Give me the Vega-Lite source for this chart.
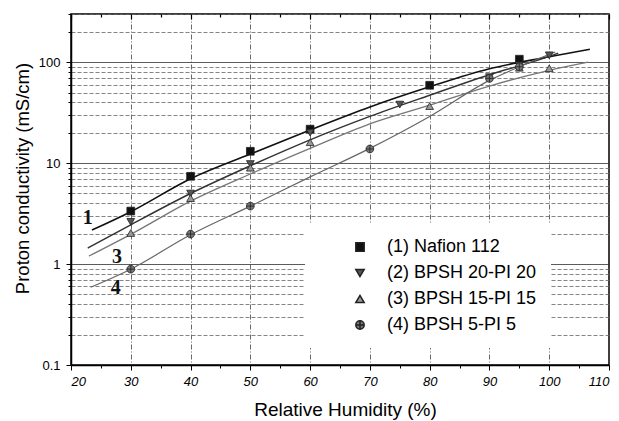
{
  "$schema": "https://vega.github.io/schema/vega-lite/v6.json",
  "width": 538,
  "height": 351,
  "autosize": "none",
  "padding": {"left": 71, "top": 14, "right": 10, "bottom": 56},
  "background": "white",
  "config": {"view": {"stroke": "#000", "strokeWidth": 1.5}, "font": "Liberation Sans"},
  "resolve": {"axis": {"x": "independent"}},
  "datasets": {
    "points": [
      {"series": "(1) Nafion 112", "rh": 30, "sigma": 3.35},
      {"series": "(1) Nafion 112", "rh": 40, "sigma": 7.4},
      {"series": "(1) Nafion 112", "rh": 50, "sigma": 13.1},
      {"series": "(1) Nafion 112", "rh": 60, "sigma": 21.7},
      {"series": "(1) Nafion 112", "rh": 80, "sigma": 59},
      {"series": "(1) Nafion 112", "rh": 95, "sigma": 107},
      {"series": "(2) BPSH 20-PI 20", "rh": 30, "sigma": 2.62},
      {"series": "(2) BPSH 20-PI 20", "rh": 40, "sigma": 5.0},
      {"series": "(2) BPSH 20-PI 20", "rh": 50, "sigma": 9.8},
      {"series": "(2) BPSH 20-PI 20", "rh": 60, "sigma": 20},
      {"series": "(2) BPSH 20-PI 20", "rh": 75, "sigma": 38},
      {"series": "(2) BPSH 20-PI 20", "rh": 90, "sigma": 71},
      {"series": "(2) BPSH 20-PI 20", "rh": 95, "sigma": 93},
      {"series": "(2) BPSH 20-PI 20", "rh": 100, "sigma": 117},
      {"series": "(3) BPSH 15-PI 15", "rh": 30, "sigma": 2.03},
      {"series": "(3) BPSH 15-PI 15", "rh": 40, "sigma": 4.5},
      {"series": "(3) BPSH 15-PI 15", "rh": 50, "sigma": 9.0},
      {"series": "(3) BPSH 15-PI 15", "rh": 60, "sigma": 16.1},
      {"series": "(3) BPSH 15-PI 15", "rh": 80, "sigma": 36.7},
      {"series": "(3) BPSH 15-PI 15", "rh": 95, "sigma": 88},
      {"series": "(3) BPSH 15-PI 15", "rh": 100, "sigma": 87},
      {"series": "(4) BPSH 5-PI 5", "rh": 30, "sigma": 0.89},
      {"series": "(4) BPSH 5-PI 5", "rh": 40, "sigma": 1.98},
      {"series": "(4) BPSH 5-PI 5", "rh": 50, "sigma": 3.75},
      {"series": "(4) BPSH 5-PI 5", "rh": 70, "sigma": 13.8},
      {"series": "(4) BPSH 5-PI 5", "rh": 90, "sigma": 69},
      {"series": "(4) BPSH 5-PI 5", "rh": 95, "sigma": 90}
    ],
    "fits": [
      {"series": "1", "rh": 23.5, "sigma": 2.17},
      {"series": "1", "rh": 30, "sigma": 3.3},
      {"series": "1", "rh": 40, "sigma": 7.0},
      {"series": "1", "rh": 50, "sigma": 12.3},
      {"series": "1", "rh": 60, "sigma": 21.3},
      {"series": "1", "rh": 70, "sigma": 36},
      {"series": "1", "rh": 80, "sigma": 57},
      {"series": "1", "rh": 90, "sigma": 86},
      {"series": "1", "rh": 100, "sigma": 113},
      {"series": "1", "rh": 106.8, "sigma": 134},
      {"series": "2", "rh": 22.8, "sigma": 1.44},
      {"series": "2", "rh": 30, "sigma": 2.45},
      {"series": "2", "rh": 40, "sigma": 5.0},
      {"series": "2", "rh": 50, "sigma": 9.4},
      {"series": "2", "rh": 60, "sigma": 17},
      {"series": "2", "rh": 70, "sigma": 29},
      {"series": "2", "rh": 80, "sigma": 47},
      {"series": "2", "rh": 90, "sigma": 75},
      {"series": "2", "rh": 100, "sigma": 114},
      {"series": "2", "rh": 101.5, "sigma": 123},
      {"series": "3", "rh": 23, "sigma": 1.2},
      {"series": "3", "rh": 30, "sigma": 1.97},
      {"series": "3", "rh": 40, "sigma": 4.2},
      {"series": "3", "rh": 50, "sigma": 7.8},
      {"series": "3", "rh": 60, "sigma": 14},
      {"series": "3", "rh": 70, "sigma": 24.5},
      {"series": "3", "rh": 80, "sigma": 37.5},
      {"series": "3", "rh": 90, "sigma": 58},
      {"series": "3", "rh": 100, "sigma": 83},
      {"series": "3", "rh": 106.5, "sigma": 100},
      {"series": "4", "rh": 23.3, "sigma": 0.59},
      {"series": "4", "rh": 30, "sigma": 0.89},
      {"series": "4", "rh": 40, "sigma": 1.95},
      {"series": "4", "rh": 50, "sigma": 3.75},
      {"series": "4", "rh": 60, "sigma": 7.3},
      {"series": "4", "rh": 70, "sigma": 14},
      {"series": "4", "rh": 80, "sigma": 29},
      {"series": "4", "rh": 90, "sigma": 66},
      {"series": "4", "rh": 95, "sigma": 90},
      {"series": "4", "rh": 101, "sigma": 126}
    ],
    "labels": [
      {"label": "1", "rh": 22.8, "sigma": 2.85},
      {"label": "3", "rh": 27.7, "sigma": 1.17},
      {"label": "4", "rh": 27.5, "sigma": 0.58}
    ]
  },
  "layer": [
    {
      "data": {"name": "fits"},
      "mark": {"type": "line", "interpolate": "monotone"},
      "encoding": {
        "x": {
          "field": "rh", "type": "quantitative",
          "scale": {"domain": [20, 110], "nice": false, "zero": false},
          "axis": {
            "title": "Relative Humidity (%)",
            "values": [20, 25, 30, 35, 40, 45, 50, 55, 60, 65, 70, 75, 80, 85, 90, 95, 100, 105, 110],
            "labelExpr": "datum.value % 10 == 0 ? datum.label : ''",
            "labelFontStyle": "italic", "labelFontSize": 13, "labelColor": "#000", "labelPadding": 5,
            "tickColor": "#000",
            "tickSize": {"condition": {"test": "datum.value % 10 == 0", "value": 5}, "value": 3},
            "domainColor": "#000", "domainWidth": 1.5,
            "grid": true, "gridColor": "#444", "gridDash": [5, 2, 1, 2],
            "gridOpacity": {"condition": {"test": "datum.value % 10 == 0 && datum.value > 20 && datum.value < 110", "value": 0.8}, "value": 0},
            "titleFontSize": 19, "titleFontWeight": "normal", "titlePadding": 12, "titleColor": "#000",
            "titleX": 274
          }
        },
        "y": {
          "field": "sigma", "type": "quantitative",
          "scale": {"type": "log", "domain": [0.1, 300], "nice": false},
          "axis": {
            "title": "Proton conductivity (mS/cm)",
            "values": [0.1, 0.2, 0.3, 0.4, 0.5, 0.6, 0.7, 0.8, 0.9, 1, 2, 3, 4, 5, 6, 7, 8, 9, 10, 20, 30, 40, 50, 60, 70, 80, 90, 100, 200, 300],
            "format": "~g",
            "labelExpr": "(datum.value == 0.1 || datum.value == 1 || datum.value == 10 || datum.value == 100) ? datum.label : ''",
            "labelFontSize": 13, "labelColor": "#000", "labelPadding": 6,
            "tickColor": "#000",
            "tickSize": {"condition": {"test": "datum.value == 0.1 || datum.value == 1 || datum.value == 10 || datum.value == 100", "value": 5}, "value": 3},
            "domainColor": "#000", "domainWidth": 1.5,
            "grid": true,
            "gridColor": {"condition": {"test": "datum.value == 1 || datum.value == 10 || datum.value == 100", "value": "#333"}, "value": "#666"},
            "gridDash": {"condition": {"test": "datum.value == 1 || datum.value == 10 || datum.value == 100", "value": []}, "value": [4, 2]},
            "gridOpacity": 0.8,
            "titleFontSize": 18.5, "titleFontWeight": "normal", "titlePadding": 6, "titleColor": "#000",
            "titleY": 164
          }
        },
        "detail": {"field": "series"},
        "stroke": {"field": "series", "scale": {"domain": ["1", "2", "3", "4"], "range": ["#111", "#333", "#777", "#666"]}, "legend": null},
        "strokeWidth": {"field": "series", "scale": {"domain": ["1", "2", "3", "4"], "range": [1.6, 1.2, 1, 1]}, "legend": null}
      }
    },
    {
      "data": {"name": "points"},
      "mark": {"type": "point", "filled": true, "stroke": "#222", "strokeWidth": 0.8, "opacity": 1, "size": 60},
      "encoding": {
        "x": {"field": "rh", "type": "quantitative", "axis": null},
        "y": {"field": "sigma", "type": "quantitative"},
        "shape": {
          "field": "series",
          "scale": {"domain": ["(1) Nafion 112", "(2) BPSH 20-PI 20", "(3) BPSH 15-PI 15", "(4) BPSH 5-PI 5"],
                    "range": ["square", "triangle-down", "triangle-up", "M-1,0A1,1 0 1,1 1,0A1,1 0 1,1 -1,0ZM-1,0H1M0,-1V1"]},
          "legend": {"orient": "none", "legendX": 234, "legendY": 210, "title": null, "fillColor": "white", "padding": 14,
                     "labelFontSize": 18, "labelFont": "Liberation Sans", "labelColor": "#000", "symbolSize": 70, "rowPadding": 8,
                     "symbolOffset": 32, "labelOffset": 18}
        },
        "color": {
          "field": "series",
          "scale": {"domain": ["(1) Nafion 112", "(2) BPSH 20-PI 20", "(3) BPSH 15-PI 15", "(4) BPSH 5-PI 5"],
                    "range": ["#111", "#555", "#999", "#777"]},
          "legend": {"orient": "none", "legendX": 234, "legendY": 210, "title": null, "fillColor": "white", "padding": 14,
                     "labelFontSize": 18, "labelFont": "Liberation Sans", "labelColor": "#000", "symbolSize": 70, "rowPadding": 8,
                     "symbolOffset": 32, "labelOffset": 18}
        }
      }
    },
    {
      "data": {"name": "labels"},
      "mark": {"type": "text", "font": "Liberation Serif", "fontWeight": "bold", "fontSize": 20, "color": "#111"},
      "encoding": {
        "x": {
          "field": "rh", "type": "quantitative",
          "axis": {
            "orient": "top", "title": null, "labels": false, "domain": false, "grid": false,
            "values": [20, 25, 30, 35, 40, 45, 50, 55, 60, 65, 70, 75, 80, 85, 90, 95, 100, 105, 110],
            "tickColor": "#000", "tickWidth": 1.2,
            "tickSize": {"condition": {"test": "datum.value % 10 == 0", "value": -5}, "value": -3}
          }
        },
        "y": {"field": "sigma", "type": "quantitative"},
        "text": {"field": "label"}
      }
    }
  ]
}
